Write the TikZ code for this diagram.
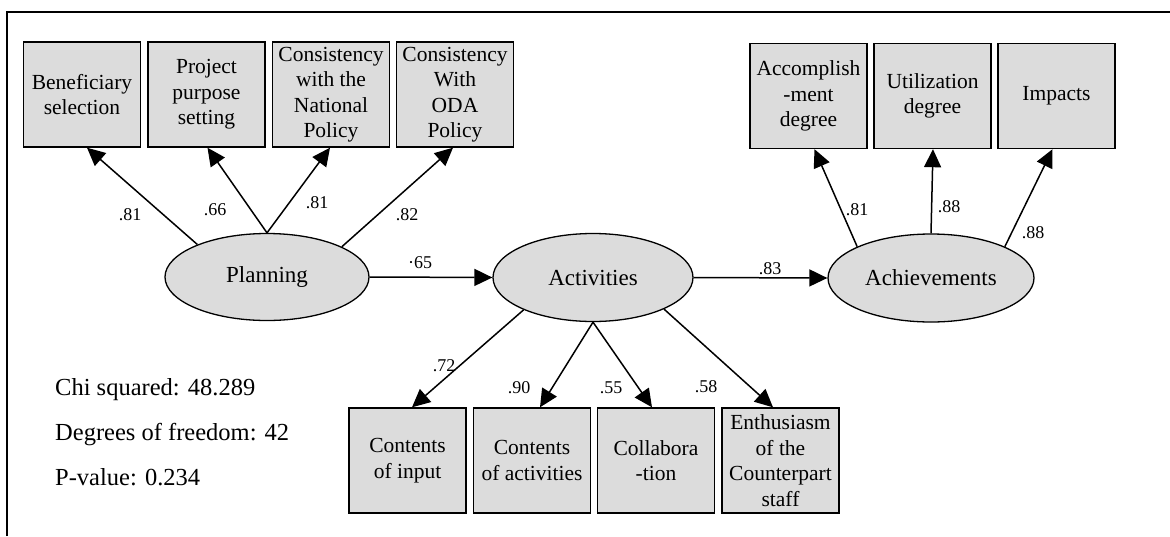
\documentclass[tikz,border=0pt]{standalone}
\usepackage{fontspec}
\setmainfont{Liberation Serif}
\usetikzlibrary{shapes.geometric,arrows.meta}
\definecolor{boxgray}{HTML}{DCDCDC}
\tikzset{
  obs/.style={draw=black, line width=1.4pt, fill=boxgray, minimum width=117pt, minimum height=105pt, inner sep=0pt, align=center, font=\fontsize{21.5}{25.5}\selectfont},
  lat/.style={draw=black, line width=1.3pt, fill=boxgray, ellipse, minimum width=204pt, minimum height=87pt, inner sep=0pt, font=\fontsize{23}{28}\selectfont},
  arr/.style={line width=1.5pt, -{Triangle[length=18pt,width=17pt]}},
  lbl/.style={inner sep=0pt, font=\fontsize{18}{21}\selectfont},
  stat/.style={inner sep=0pt, anchor=west, font=\fontsize{24.5}{29}\selectfont}
}
\begin{document}
\begin{tikzpicture}[x=1pt,y=-1pt]
\useasboundingbox (0,0) rectangle (1170,536);
\draw[line width=2pt] (7,536) -- (7,12) -- (1170,12);
% top-left observed
\node[obs] (b1) at (82,94.5) {Beneficiary\\selection};
\node[obs] (b2) at (206.5,94.5) {Project\\purpose\\setting};
\node[obs] (b3) at (331,94.5) {Consistency\\with the\\National\\Policy};
\node[obs] (b4) at (455,94.5) {Consistency\\With\\ODA\\Policy};
% top-right observed
\node[obs] (r1) at (808.5,96) {Accomplish\\-ment\\degree};
\node[obs] (r2) at (932.5,96) {Utilization\\degree};
\node[obs] (r3) at (1056.5,96) {Impacts};
% bottom observed
\node[obs] (c1) at (407.5,460.5) {Contents\\of input};
\node[obs] (c2) at (532,460.5) {Contents\\of activities};
\node[obs] (c3) at (656,460.5) {Collabora\\-tion};
\node[obs] (c4) at (780.5,460.5) {Enthusiasm\\of the\\Counterpart\\staff};
% latent
\node[lat] (pl) at (267,277) {Planning};
\node[lat, minimum width=200pt, minimum height=88pt] (act) at (593,277.5) {Activities};
\node[lat, minimum width=206pt, minimum height=88pt] (ach) at (931,278) {Achievements};
% arrows
\draw[arr] (pl.155) -- ([xshift=5pt]b1.south);
\draw[arr] (pl.north) -- ([xshift=1pt]b2.south);
\draw[arr] (pl.north) -- ([xshift=-1pt]b3.south);
\draw[arr] (pl.22) -- ([xshift=-2pt]b4.south);
\draw[arr] (pl.east) -- (act.west);
\draw[arr] (act.east) -- (ach.west);
\draw[arr] (ach.157) -- ([xshift=6pt]r1.south);
\draw[arr] (ach.north) -- ([xshift=0.5pt]r2.south);
\draw[arr] (ach.23) -- ([xshift=-4pt]r3.south);
\draw[arr] (act.205) -- ([xshift=4.5pt]c1.north);
\draw[arr] (act.south) -- ([xshift=8pt]c2.north);
\draw[arr] (act.south) -- ([xshift=-4pt]c3.north);
\draw[arr] (act.336) -- ([xshift=-7.5pt]c4.north);
% labels
\node[lbl] (l1) at (130,215) {.81};
\node[lbl] (l2) at (215,210) {.66};
\node[lbl] (l3) at (317,203) {.81};
\node[lbl] (l4) at (407,215) {.82};
\node[lbl] (l5) at (420,263) {·65};
\node[lbl] (l6) at (770,269) {.83};
\node[lbl] (l7) at (857,210) {.81};
\node[lbl] (l8) at (949,207) {.88};
\node[lbl] (l9) at (1033,233) {.88};
\node[lbl] (l10) at (444,366) {.72};
\node[lbl] (l11) at (519,388) {.90};
\node[lbl] (l12) at (611,388) {.55};
\node[lbl] (l13) at (706,387) {.58};
% stats
\node[stat] (s1) at (55,390) {Chi squared: 48.289};
\node[stat] (s2) at (55,435) {Degrees of freedom: 42};
\node[stat] (s3) at (55,477) {P-value: 0.234};
\end{tikzpicture}
\end{document}
